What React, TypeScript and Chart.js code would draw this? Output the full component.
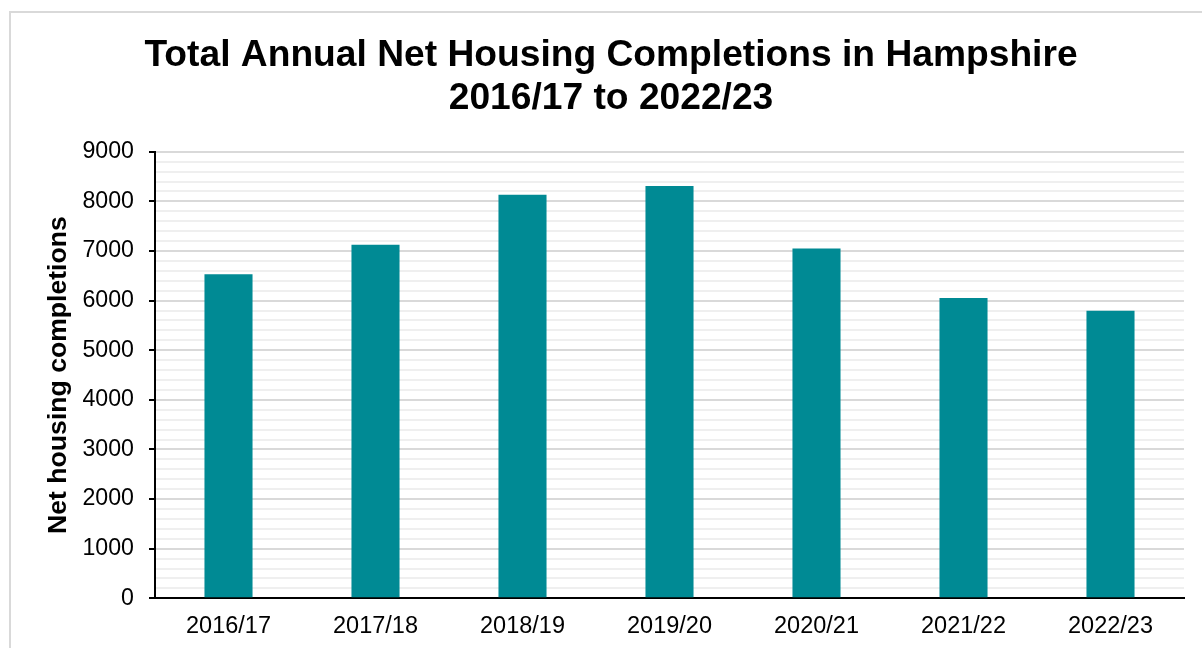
import React, { useEffect, useRef } from "react";
import { Chart, registerables } from "chart.js";

Chart.register(...registerables);

const categories = ["2016/17", "2017/18", "2018/19", "2019/20", "2020/21", "2021/22", "2022/23"];
const completions = [6530, 7125, 8135, 8310, 7050, 6055, 5795];
const titleLines = ["Total Annual Net Housing Completions in Hampshire", "2016/17 to 2022/23"];
const yAxisTitle = "Net housing completions";
const yMin = 0;
const yMax = 9000;
const minorStep = 200;
const majorStep = 1000;

const FONT = "'Liberation Sans', Arial, Helvetica, sans-serif";
const BAR = "#008A94";

export default function App() {
  const ref = useRef<HTMLCanvasElement>(null);
  useEffect(() => {
    const chart = new Chart(ref.current!, {
      type: "bar",
      data: {
        labels: categories,
        datasets: [
          {
            data: completions,
            backgroundColor: BAR,
            barPercentage: 0.327,
            categoryPercentage: 1,
          },
        ],
      },
      options: {
        animation: false,
        responsive: false,
        maintainAspectRatio: false,
        layout: { padding: { left: 28, right: 28, top: 0, bottom: 4.7 } },
        plugins: {
          legend: { display: false },
          tooltip: { enabled: false },
          title: {
            display: true,
            text: titleLines,
            color: "#000",
            font: { family: FONT, size: 37.2, weight: "bold", lineHeight: 1.16 },
            padding: { top: 23.5, bottom: 31 },
          },
        },
        scales: {
          x: {
            grid: { display: false, drawTicks: false },
            border: { display: true, color: "#000", width: 2 },
            ticks: {
              color: "#000",
              font: { family: FONT, size: 23.5 },
              padding: 14.5,
              maxRotation: 0,
            },
            afterFit: (s: any) => {
              s.height = 45;
            },
          },
          y: {
            min: yMin,
            max: yMax,
            afterFit: (s: any) => {
              s.width = 117;
            },
            ticks: {
              stepSize: minorStep,
              autoSkip: false,
              color: "#000",
              font: { family: FONT, size: 23.2 },
              padding: 15,
              callback: (v: any) => (Number(v) % majorStep === 0 ? String(v) : ""),
            },
            grid: {
              color: (c: any) => (c.tick && c.tick.value % majorStep === 0 ? "#d9d9d9" : "#efefef"),
              lineWidth: 2,
              tickLength: 6,
              tickWidth: 2,
              tickColor: (c: any) => (c.tick && c.tick.value % majorStep === 0 ? "#000" : "rgba(0,0,0,0)"),
            },
            border: { display: true, color: "#000", width: 2 },
            title: {
              display: true,
              text: yAxisTitle,
              color: "#000",
              font: { family: FONT, size: 26.6, weight: "bold" },
              padding: { top: 4.6, bottom: 0 },
            },
          },
        },
      },
    });
    return () => chart.destroy();
  }, []);

  return (
    <div
      style={{
        position: "fixed",
        left: 0,
        top: 0,
        width: 1202,
        height: 648,
        overflow: "hidden",
        background: "#fff",
      }}
    >
      <div
        style={{
          position: "absolute",
          left: 9,
          top: 11,
          width: 1300,
          height: 800,
          border: "2px solid #d9d9d9",
          boxSizing: "border-box",
        }}
      />
      <canvas
        ref={ref}
        width={1202}
        height={637}
        style={{ position: "absolute", left: 10, top: 11, width: 1202, height: 637 }}
      />
    </div>
  );
}
